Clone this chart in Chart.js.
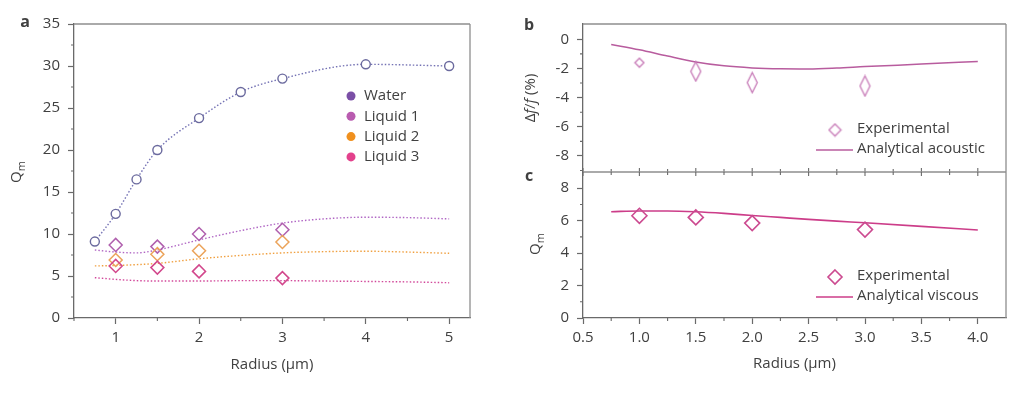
<!DOCTYPE html>
<html>
<head>
<meta charset="utf-8">
<script src="https://cdn.jsdelivr.net/npm/chart.js@4.4.1/dist/chart.umd.min.js"></script>
<style>
  body { margin: 0; background: #fff; width: 1024px; height: 394px; overflow: hidden; position: relative; }
  canvas { position: absolute; left: 0; top: 0; }
</style>
</head>
<body>
<canvas id="chartA" width="1024" height="394"></canvas>
<canvas id="chartB" width="1024" height="394"></canvas>
<canvas id="chartC" width="1024" height="394"></canvas>
<script>
// ---- data (panel a) ----
const waterRadius = [0.75, 1, 1.25, 1.5, 2, 2.5, 3, 4, 5];
const waterQ = [9.1, 12.4, 16.5, 20, 23.8, 26.9, 28.5, 30.2, 30];
const liquidRadius = [1, 1.5, 2, 3];
const liquid1Q = [8.7, 8.5, 10, 10.5];
const liquid2Q = [6.9, 7.6, 8, 9.05];
const liquid3Q = [6.2, 6.0, 5.55, 4.75];
const fitRadius = [0.75, 1, 1.25, 1.5, 2, 2.5, 3, 3.5, 4, 4.5, 5];
const fit1Q = [8.1, 7.85, 7.75, 8.1, 9.3, 10.4, 11.3, 11.8, 12.0, 11.95, 11.8];
const fit2Q = [6.2, 6.25, 6.35, 6.5, 7.05, 7.45, 7.75, 7.9, 7.95, 7.85, 7.7];
const fit3Q = [4.8, 4.6, 4.45, 4.4, 4.4, 4.45, 4.45, 4.4, 4.35, 4.3, 4.2];
const legendA = ["Water", "Liquid 1", "Liquid 2", "Liquid 3"];

// ---- data (panels b, c) ----
const expRadius = [1, 1.5, 2, 3];
const shiftExp = [-1.6, -2.2, -2.97, -3.2];
const modelRadius = [0.75, 1, 1.25, 1.5, 1.75, 2, 2.25, 2.5, 2.75, 3, 3.5, 4];
const shiftModel = [-0.35, -0.72, -1.15, -1.55, -1.82, -1.96, -2.02, -2.03, -1.97, -1.87, -1.7, -1.52];
const qExp = [6.3, 6.2, 5.85, 5.45];
const qModel = [6.55, 6.6, 6.6, 6.55, 6.45, 6.32, 6.2, 6.08, 5.97, 5.87, 5.65, 5.42];

// ---- ticks ----
const aXTicks = [1, 2, 3, 4, 5];
const aXMinor = [0.5, 1.5, 2.5, 3.5, 4.5];
const aYTicks = [0, 5, 10, 15, 20, 25, 30, 35];
const aYMinor = [2.5, 7.5, 12.5, 17.5, 22.5, 27.5, 32.5];
const bYTicks = [-8, -6, -4, -2, 0];
const bYMinor = [-9, -7, -5, -3, -1];
const cXTicks = [0.5, 1, 1.5, 2, 2.5, 3, 3.5, 4];
const cXMinor = [0.75, 1.25, 1.75, 2.25, 2.75, 3.25, 3.75];
const cYTicks = [0, 2, 4, 6, 8];
const cYMinor = [1, 3, 5, 7];

// ---- styles ----
const FONT = "'Open Sans', 'Noto Sans', sans-serif";
const TEXT = "#404040";
const AXIS = "#6a6a6a";
const FRAME = "#8e8e8e";
const bMarkerHeights = [9, 19, 20, 20];

Chart.defaults.font.family = FONT;
Chart.defaults.font.size = 15;
Chart.defaults.color = TEXT;

const pts = (xs, ys) => xs.map((x, i) => ({ x: x, y: ys[i] }));

const axis = (min, max, ticks, size, horizontal, extra) =>
  Object.assign(
    {
      type: "linear",
      min: min,
      max: max,
      afterBuildTicks: (s) => {
        s.ticks = ticks.map((v) => ({ value: v }));
      },
      afterFit: (s) => {
        if (horizontal) s.height = size;
        else s.width = size;
      },
      grid: { drawOnChartArea: false, tickLength: 6, tickWidth: 1.2, tickColor: AXIS },
      border: { color: AXIS, width: 1.3 },
      ticks: { padding: horizontal ? 5 : 8, color: TEXT, font: { size: 15 } },
    },
    extra || {}
  );

// tall diamond marker drawn on a small canvas
const diamond = (w, h, color) => {
  const c = document.createElement("canvas");
  c.width = w + 3;
  c.height = h + 3;
  const g = c.getContext("2d");
  g.strokeStyle = color;
  g.lineWidth = 1.3;
  g.beginPath();
  g.moveTo(c.width / 2, 1.5);
  g.lineTo(c.width - 1.5, c.height / 2);
  g.lineTo(c.width / 2, c.height - 1.5);
  g.lineTo(1.5, c.height / 2);
  g.closePath();
  g.stroke();
  return c;
};

// helpers for the extra drawing
const minorTicks = (chart, id, values, len, where) => {
  const ctx = chart.ctx, s = chart.scales[id], a = chart.chartArea;
  ctx.save();
  ctx.strokeStyle = AXIS;
  ctx.lineWidth = 1.1;
  ctx.beginPath();
  for (let v of values) {
    const p = s.getPixelForValue(v);
    if (where === "left") { ctx.moveTo(a.left - len, p); ctx.lineTo(a.left, p); }
    if (where === "bottom") { ctx.moveTo(p, a.bottom); ctx.lineTo(p, a.bottom + len); }
    if (where === "top") { ctx.moveTo(p, a.top); ctx.lineTo(p, a.top + len); }
    if (where === "bottomIn") { ctx.moveTo(p, a.bottom); ctx.lineTo(p, a.bottom - len); }
  }
  ctx.stroke();
  ctx.restore();
};

const frame = (chart, sides) => {
  const ctx = chart.ctx, a = chart.chartArea;
  ctx.save();
  ctx.strokeStyle = FRAME;
  ctx.lineWidth = 1.3;
  ctx.beginPath();
  if (sides.includes("top")) { ctx.moveTo(a.left, a.top); ctx.lineTo(a.right, a.top); }
  if (sides.includes("right")) { ctx.moveTo(a.right, a.top); ctx.lineTo(a.right, a.bottom); }
  ctx.stroke();
  ctx.restore();
};

const text = (ctx, str, x, y, font, align) => {
  ctx.save();
  ctx.font = font || "15px " + FONT;
  ctx.fillStyle = TEXT;
  ctx.textAlign = align || "left";
  ctx.textBaseline = "middle";
  ctx.fillText(str, x, y);
  ctx.restore();
};

const drawQm = (ctx, x, y) => {
  ctx.save();
  ctx.translate(x, y);
  ctx.rotate(-Math.PI / 2);
  ctx.fillStyle = TEXT;
  ctx.textBaseline = "middle";
  ctx.font = "15px " + FONT;
  const wq = ctx.measureText("Q").width;
  ctx.font = "11px " + FONT;
  const wm = ctx.measureText("m").width;
  const start = -(wq + wm) / 2;
  ctx.font = "15px " + FONT;
  ctx.fillText("Q", start, 0);
  ctx.font = "11px " + FONT;
  ctx.fillText("m", start + wq, 5);
  ctx.restore();
};

const drawShiftTitle = (ctx, x, y) => {
  const parts = [["Δ", ""], ["f", "italic "], ["/", ""], ["f", "italic "], [" (%)", ""]];
  ctx.save();
  ctx.translate(x, y);
  ctx.rotate(-Math.PI / 2);
  ctx.fillStyle = TEXT;
  ctx.textBaseline = "middle";
  let total = 0;
  for (let p of parts) {
    ctx.font = p[1] + "15px " + FONT;
    total += ctx.measureText(p[0]).width;
  }
  let pos = -total / 2;
  for (let p of parts) {
    ctx.font = p[1] + "15px " + FONT;
    ctx.fillText(p[0], pos, 0);
    pos += ctx.measureText(p[0]).width;
  }
  ctx.restore();
};

// ---------------- Panel a ----------------
const colorsA = ["#7b4fa6", "#b95cb0", "#f0901e", "#e3418c"];

new Chart(document.getElementById("chartA"), {
  type: "scatter",
  data: {
    datasets: [
      {
        label: "Water",
        data: pts(waterRadius, waterQ),
        showLine: true,
        cubicInterpolationMode: "monotone",
        borderColor: "#7472b4",
        borderWidth: 1.4,
        borderDash: [1.5, 2],
        pointRadius: 4.5,
        pointBorderWidth: 1.4,
        pointBorderColor: "#6b6a9e",
        pointBackgroundColor: "#ffffff",
      },
      {
        label: "Liquid 3",
        data: pts(liquidRadius, liquid3Q),
        pointStyle: "rectRot",
        pointRadius: 6.5,
        pointBorderWidth: 1.5,
        pointBorderColor: "#d2478c",
        pointBackgroundColor: "rgba(0,0,0,0)",
      },
      {
        label: "Liquid 2",
        data: pts(liquidRadius, liquid2Q),
        pointStyle: "rectRot",
        pointRadius: 6.5,
        pointBorderWidth: 1.5,
        pointBorderColor: "#eba35a",
        pointBackgroundColor: "rgba(0,0,0,0)",
      },
      {
        label: "Liquid 1",
        data: pts(liquidRadius, liquid1Q),
        pointStyle: "rectRot",
        pointRadius: 6.5,
        pointBorderWidth: 1.5,
        pointBorderColor: "#b060ae",
        pointBackgroundColor: "rgba(0,0,0,0)",
      },
      {
        label: "Fit 1",
        data: pts(fitRadius, fit1Q),
        showLine: true,
        cubicInterpolationMode: "monotone",
        borderColor: "#b066c4",
        borderWidth: 1.4,
        borderDash: [1.5, 2],
        pointRadius: 0,
      },
      {
        label: "Fit 2",
        data: pts(fitRadius, fit2Q),
        showLine: true,
        cubicInterpolationMode: "monotone",
        borderColor: "#f0a040",
        borderWidth: 1.4,
        borderDash: [1.5, 2],
        pointRadius: 0,
      },
      {
        label: "Fit 3",
        data: pts(fitRadius, fit3Q),
        showLine: true,
        cubicInterpolationMode: "monotone",
        borderColor: "#d2489a",
        borderWidth: 1.4,
        borderDash: [1.5, 2],
        pointRadius: 0,
      },
    ],
  },
  options: {
    responsive: false,
    animation: false,
    events: [],
    layout: { padding: { left: 0, top: 24, right: 554, bottom: 0 } },
    plugins: { legend: { display: false }, tooltip: { enabled: false }, decor: {} },
    scales: {
      x: axis(0.5, 5.25, aXTicks, 76, true, {
        title: { display: true, text: "Radius (µm)", color: TEXT, font: { size: 15 }, padding: { top: 0, bottom: 20 } },
      }),
      y: axis(0, 35, aYTicks, 74, false),
    },
  },
  plugins: [
    {
      id: "decor",
      afterDraw(chart) {
        const ctx = chart.ctx;
        frame(chart, ["top", "right"]);
        minorTicks(chart, "y", aYMinor, 3, "left");
        minorTicks(chart, "x", aXMinor, 3, "bottom");
        drawQm(ctx, 17, 172);
        text(ctx, "a", 25, 22, "bold 16px " + FONT, "center");
        // legend inside the plot
        legendA.forEach((name, i) => {
          const y = 96 + i * 20.3;
          ctx.save();
          ctx.fillStyle = colorsA[i];
          ctx.beginPath();
          ctx.arc(351, y, 4.5, 0, Math.PI * 2);
          ctx.fill();
          ctx.restore();
          text(ctx, name, 364, y);
        });
      },
    },
  ],
});

// ---------------- Panel b ----------------
const colorB = "#b85c9e";
const colorBExp = "#c77ab7";

new Chart(document.getElementById("chartB"), {
  type: "scatter",
  data: {
    datasets: [
      {
        label: "Experimental",
        data: pts(expRadius, shiftExp),
        pointStyle: bMarkerHeights.map((h, i) => diamond(i === 0 ? 9 : 10, h, colorBExp)),
        pointRadius: 6,
      },
      {
        label: "Analytical acoustic",
        data: pts(modelRadius, shiftModel),
        showLine: true,
        cubicInterpolationMode: "monotone",
        borderColor: colorB,
        borderWidth: 1.5,
        pointRadius: 0,
      },
    ],
  },
  options: {
    responsive: false,
    animation: false,
    events: [],
    layout: { padding: { left: 500, top: 24, right: 18, bottom: 222 } },
    plugins: { legend: { display: false }, tooltip: { enabled: false }, decor: {} },
    scales: {
      x: { type: "linear", min: 0.5, max: 4.25, display: false },
      y: axis(-9.1, 1.05, bYTicks, 83, false),
    },
  },
  plugins: [
    {
      id: "decor",
      afterDraw(chart) {
        const ctx = chart.ctx;
        frame(chart, ["top", "right"]);
        minorTicks(chart, "y", bYMinor, 3, "left");
        minorTicks(chart, "x", cXTicks, 4, "bottomIn");
        minorTicks(chart, "x", cXMinor, 3, "bottomIn");
        drawShiftTitle(ctx, 531, 98);
        text(ctx, "b", 529, 25, "bold 16px " + FONT, "center");
        // legend
        ctx.drawImage(diamond(12, 12, colorBExp), 835 - 7.5, 130 - 7.5);
        text(ctx, "Experimental", 857, 129);
        ctx.save();
        ctx.strokeStyle = colorB;
        ctx.lineWidth = 1.5;
        ctx.beginPath();
        ctx.moveTo(816, 150);
        ctx.lineTo(853, 150);
        ctx.stroke();
        ctx.restore();
        text(ctx, "Analytical acoustic", 857, 149);
      },
    },
  ],
});

// ---------------- Panel c ----------------
const colorC = "#cc3d89";
const colorCExp = "#cc4a90";

new Chart(document.getElementById("chartC"), {
  type: "scatter",
  data: {
    datasets: [
      {
        label: "Experimental",
        data: pts(expRadius, qExp),
        pointStyle: "rectRot",
        pointRadius: 7.5,
        pointBorderWidth: 1.6,
        pointBorderColor: colorCExp,
        pointBackgroundColor: "rgba(0,0,0,0)",
      },
      {
        label: "Analytical viscous",
        data: pts(modelRadius, qModel),
        showLine: true,
        cubicInterpolationMode: "monotone",
        borderColor: colorC,
        borderWidth: 1.6,
        pointRadius: 0,
      },
    ],
  },
  options: {
    responsive: false,
    animation: false,
    events: [],
    layout: { padding: { left: 500, top: 172, right: 18, bottom: 0 } },
    plugins: { legend: { display: false }, tooltip: { enabled: false }, decor: {} },
    scales: {
      x: axis(0.5, 4.25, cXTicks, 76, true, {
        title: { display: true, text: "Radius (µm)", color: TEXT, font: { size: 15 }, padding: { top: 0, bottom: 21 } },
        ticks: { padding: 5, color: TEXT, font: { size: 15 }, callback: (v) => Number(v).toFixed(1) },
      }),
      y: axis(0, 9, cYTicks, 83, false),
    },
  },
  plugins: [
    {
      id: "decor",
      afterDraw(chart) {
        const ctx = chart.ctx;
        frame(chart, ["top", "right"]);
        minorTicks(chart, "y", cYMinor, 3, "left");
        minorTicks(chart, "x", cXMinor, 3, "bottom");
        minorTicks(chart, "x", cXTicks, 4, "top");
        minorTicks(chart, "x", cXMinor, 3, "top");
        drawQm(ctx, 536, 244);
        text(ctx, "c", 529, 176, "bold 16px " + FONT, "center");
        // legend
        ctx.save();
        ctx.strokeStyle = colorCExp;
        ctx.lineWidth = 1.6;
        ctx.beginPath();
        ctx.moveTo(835, 270);
        ctx.lineTo(842, 277);
        ctx.lineTo(835, 284);
        ctx.lineTo(828, 277);
        ctx.closePath();
        ctx.stroke();
        ctx.strokeStyle = colorC;
        ctx.beginPath();
        ctx.moveTo(816, 297);
        ctx.lineTo(853, 297);
        ctx.stroke();
        ctx.restore();
        text(ctx, "Experimental", 857, 276);
        text(ctx, "Analytical viscous", 857, 296);
      },
    },
  ],
});
</script>
</body>
</html>
